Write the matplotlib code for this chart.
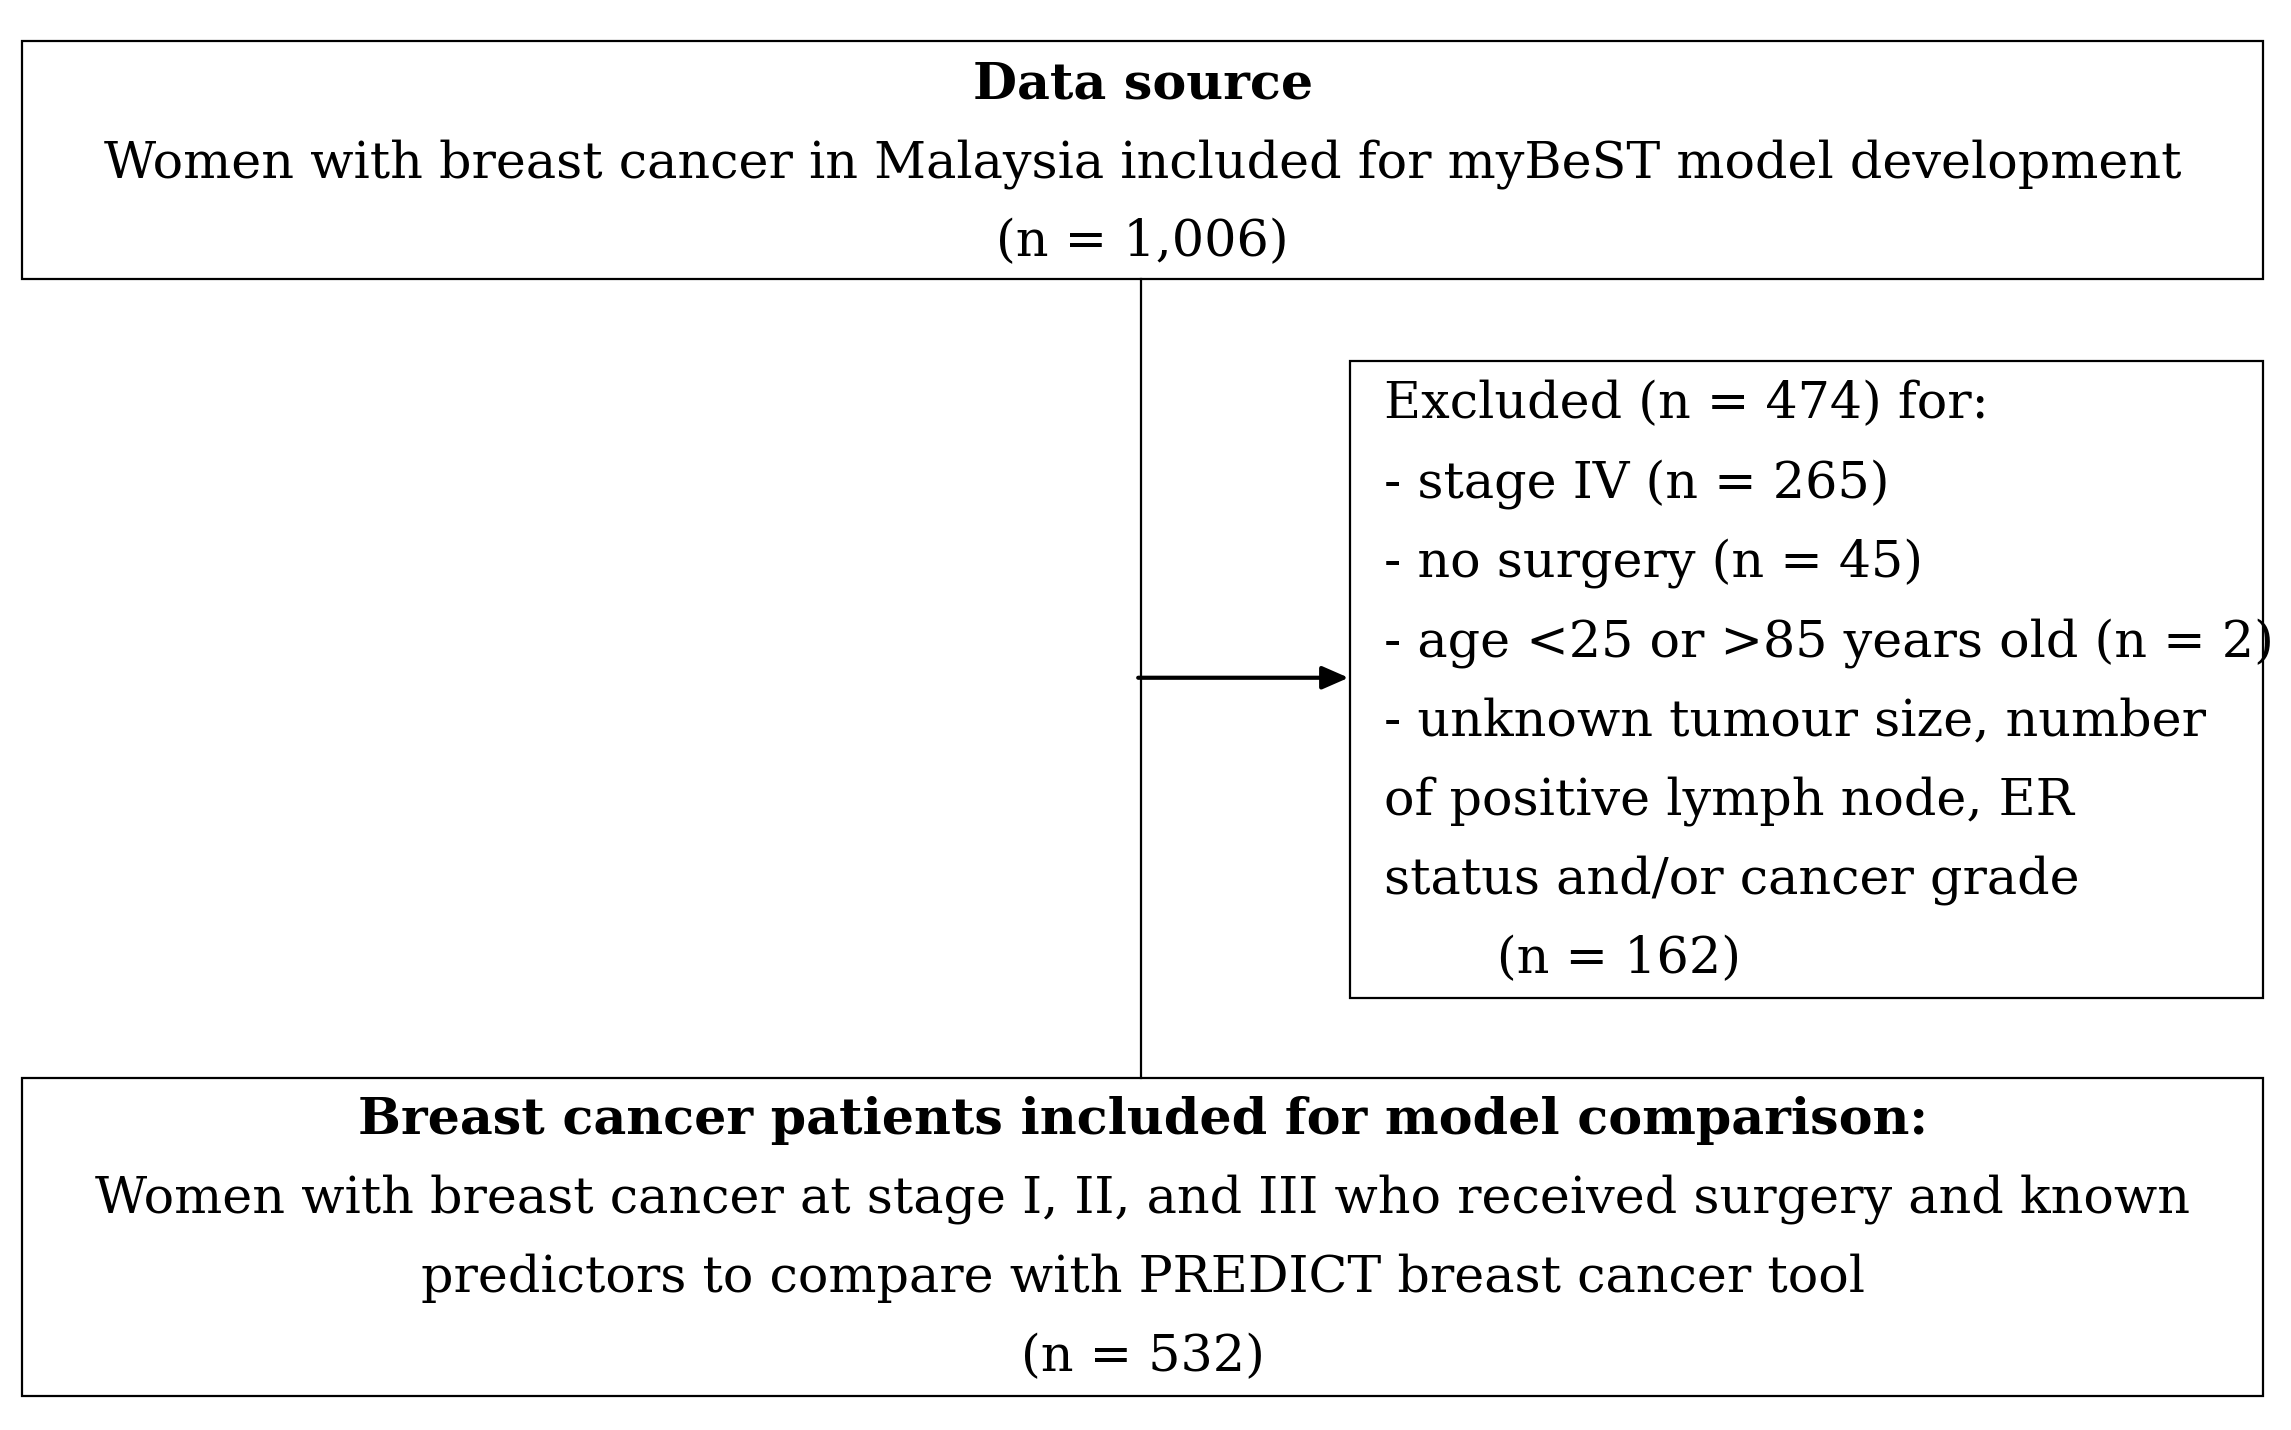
import matplotlib
matplotlib.use("Agg")
import matplotlib.pyplot as plt
from matplotlib.patches import Rectangle

W, H = 1568, 979
top_title = "Data source"
top_lines = ["Women with breast cancer in Malaysia included for myBeST model development", "(n = 1,006)"]
excl_lines = ["Excluded (n = 474) for:", "- stage IV (n = 265)", "- no surgery (n = 45)",
              "- age <25 or >85 years old (n = 2)", "- unknown tumour size, number",
              "of positive lymph node, ER", "status and/or cancer grade", "       (n = 162)"]
bot_title = "Breast cancer patients included for model comparison:"
bot_lines = ["Women with breast cancer at stage I, II, and III who received surgery and known",
             "predictors to compare with PREDICT breast cancer tool", "(n = 532)"]

fig = plt.figure(figsize=(22.91, 14.30), dpi=100)
ax = fig.add_axes([0, 0, 1, 1])
ax.set_xlim(0, W); ax.set_ylim(H, 0); ax.axis("off")
fs = 36.5
fam = "DejaVu Serif"
kw = dict(family=fam, fontsize=fs, color="black")

def box(x0, y0, x1, y1):
    ax.add_patch(Rectangle((x0, y0), x1 - x0, y1 - y0, fill=False, lw=1.6, ec="black"))

box(15, 28, 1549, 191)
box(924, 247, 1549, 683)
box(15, 738, 1549, 956)
ax.plot([781, 781], [191, 738], color="black", lw=1.6)
ax.annotate("", xy=(923, 464), xytext=(779, 464),
            arrowprops=dict(arrowstyle="-|>,head_length=1.6,head_width=0.7", lw=3, color="black",
                            shrinkA=0, shrinkB=0))

ax.text(782, 58, top_title, ha="center", va="center", weight="bold", **kw)
for i, t in enumerate(top_lines):
    ax.text(782, 112 + 54 * i, t, ha="center", va="center", **kw)
for i, t in enumerate(excl_lines):
    ax.text(947, 277 + 54.3 * i, t, ha="left", va="center", **kw)
ax.text(782, 767, bot_title, ha="center", va="center", weight="bold", **kw)
for i, t in enumerate(bot_lines):
    ax.text(782, 821 + 54 * i, t, ha="center", va="center", **kw)

fig.savefig("out.png", dpi=100, facecolor="white")
